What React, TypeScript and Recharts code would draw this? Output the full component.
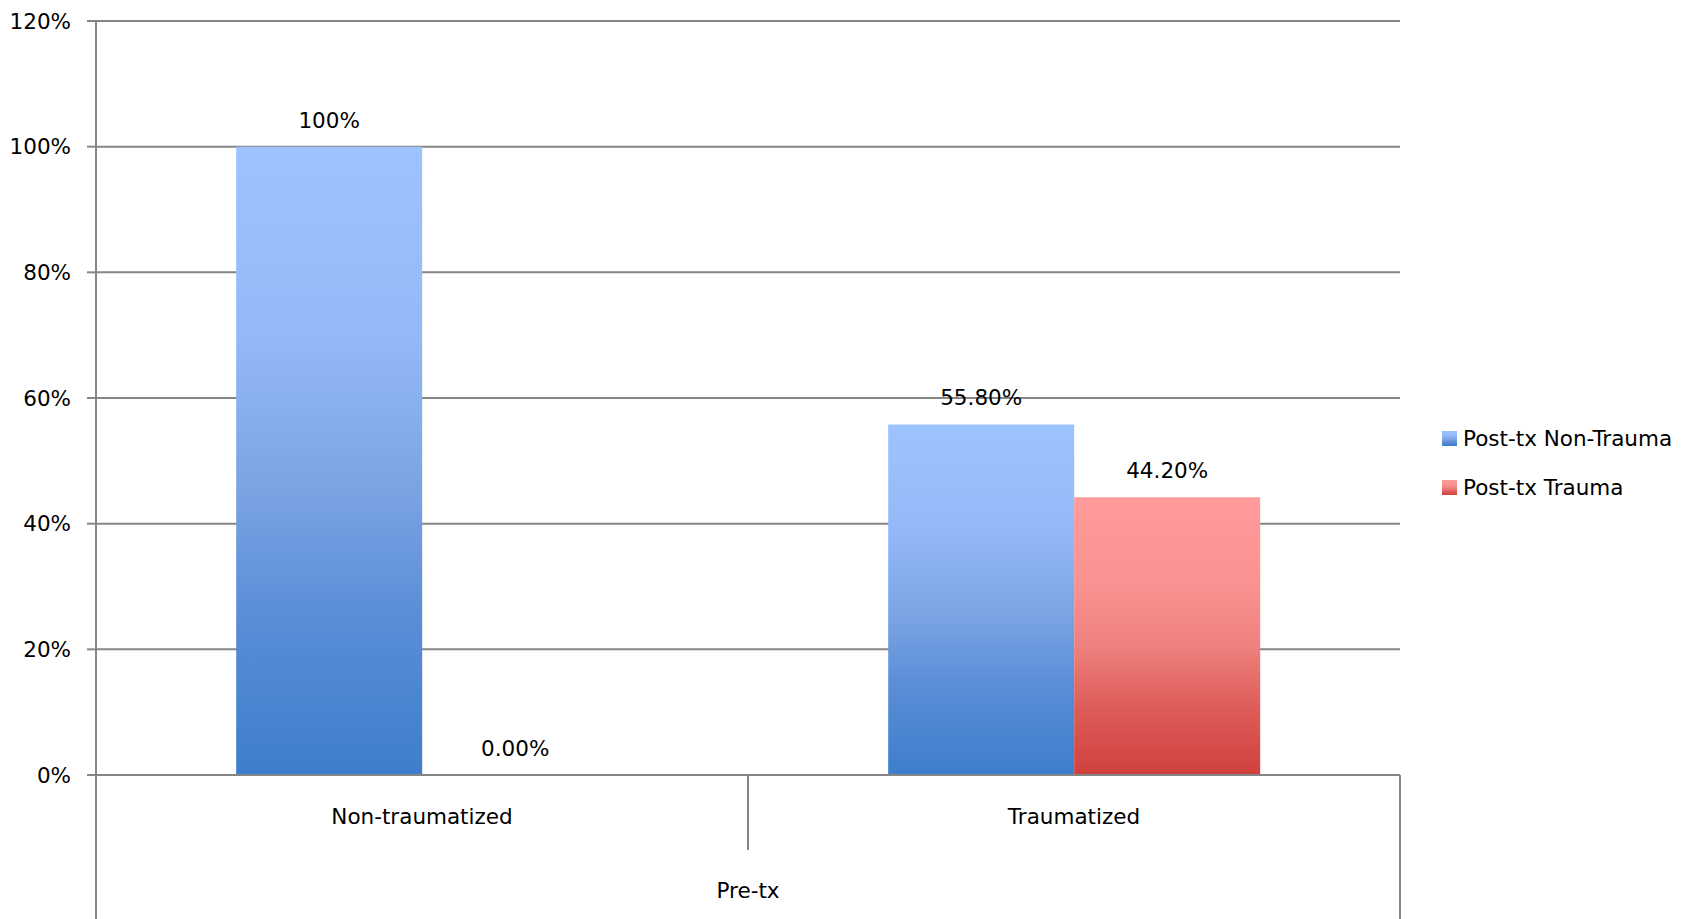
import React from 'react';
import { BarChart, Bar, XAxis, YAxis, CartesianGrid, Legend, LabelList } from 'recharts';

// Categories along the x axis, grouped under one pre-treatment heading
const categories = ['Non-traumatized', 'Traumatized'];
const groupHeading = 'Pre-tx';

// Post-treatment outcome shares (percent)
const seriesNames = ['Post-tx Non-Trauma', 'Post-tx Trauma'];
const postNonTrauma = [100, 55.8];
const postTrauma = [0, 44.2];

// Data labels as printed above each bar
const postNonTraumaLabels = ['100%', '55.80%'];
const postTraumaLabels = ['0.00%', '44.20%'];

// Value axis ticks
const yTicks = [0, 20, 40, 60, 80, 100, 120];

const data = categories.map((category, i) => ({
  category,
  nonTrauma: postNonTrauma[i],
  trauma: postTrauma[i],
  nonTraumaLabel: postNonTraumaLabels[i],
  traumaLabel: postTraumaLabels[i],
}));

const FONT = '"DejaVu Sans", sans-serif';
const FONT_SIZE = 21.5;
const LINE = '#868686';
const WIDTH = 1690;
const HEIGHT = 919;
const X_AXIS_HEIGHT = 144;
const DIVIDER_DROP = 75;

const blueStops = ['#9dc3ff', '#94b9f8', '#7aa3e4', '#5a8dd6', '#3d7ecc'];
const redStops = ['#ff9b9a', '#f99392', '#ee7f7c', '#de5e5b', '#d0403d'];
const stopOffsets = ['0%', '30%', '55%', '75%', '100%'];

const cssGradient = (stops: string[]) =>
  `linear-gradient(to bottom, ${stops.map((c, i) => `${c} ${stopOffsets[i]}`).join(', ')})`;

const CategoryTick = (props: any) => {
  const { x, y, payload, index, visibleTicksCount } = props;
  const half = payload && typeof payload.offset === 'number' ? payload.offset : 0;
  const isLast = index === visibleTicksCount - 1;
  return (
    <g>
      {index === 0 && (
        <line x1={x - half} x2={x - half} y1={y} y2={y + X_AXIS_HEIGHT} stroke={LINE} strokeWidth={2} />
      )}
      <line
        x1={x + half}
        x2={x + half}
        y1={y}
        y2={isLast ? y + X_AXIS_HEIGHT : y + DIVIDER_DROP}
        stroke={LINE}
        strokeWidth={2}
      />
      <text x={x} y={y + 49} textAnchor="middle" fill="#000" fontSize={FONT_SIZE} fontFamily={FONT}>
        {payload.value}
      </text>
    </g>
  );
};

const LegendContent = () => (
  <div style={{ fontFamily: FONT, fontSize: FONT_SIZE, color: '#000' }}>
    {seriesNames.map((name, i) => (
      <div
        key={name}
        style={{ display: 'flex', alignItems: 'center', height: 24, marginBottom: i === 0 ? 25 : 0 }}
      >
        <div
          style={{
            width: 15,
            height: 15,
            background: cssGradient(i === 0 ? blueStops : redStops),
          }}
        />
        <span style={{ marginLeft: 6, whiteSpace: 'nowrap' }}>{name}</span>
      </div>
    ))}
  </div>
);

export default function App() {
  return (
    <div style={{ position: 'absolute', left: 0, top: 0, background: '#fff' }}>
      <BarChart
        width={WIDTH}
        height={HEIGHT}
        data={data}
        margin={{ top: 21, right: 290, bottom: 0, left: 0 }}
        barCategoryGap="21.5%"
        barGap={0}
      >
        <defs>
          <linearGradient id="gradBlue" x1="0" y1="0" x2="0" y2="1">
            {blueStops.map((c, i) => (
              <stop key={i} offset={stopOffsets[i]} stopColor={c} />
            ))}
          </linearGradient>
          <linearGradient id="gradRed" x1="0" y1="0" x2="0" y2="1">
            {redStops.map((c, i) => (
              <stop key={i} offset={stopOffsets[i]} stopColor={c} />
            ))}
          </linearGradient>
        </defs>
        <CartesianGrid vertical={false} stroke={LINE} strokeWidth={2} />
        <XAxis
          dataKey="category"
          height={X_AXIS_HEIGHT}
          tickLine={false}
          tickSize={0}
          tickMargin={0}
          axisLine={{ stroke: LINE, strokeWidth: 2 }}
          tick={<CategoryTick />}
          interval={0}
          label={{
            value: groupHeading,
            position: 'insideBottom',
            offset: 21,
            fill: '#000',
            fontSize: FONT_SIZE,
            fontFamily: FONT,
          }}
        />
        <YAxis
          width={96}
          domain={[0, 120]}
          ticks={yTicks}
          interval={0}
          tickFormatter={(v: number) => `${v}%`}
          tickSize={9}
          tickMargin={16}
          axisLine={{ stroke: LINE, strokeWidth: 2 }}
          tickLine={{ stroke: LINE, strokeWidth: 2 }}
          tick={{ fill: '#000', fontSize: FONT_SIZE, fontFamily: FONT }}
        />
        <Legend
          layout="vertical"
          align="center"
          verticalAlign="middle"
          wrapperStyle={{ left: 1442, top: 426 }}
          content={<LegendContent />}
        />
        <Bar dataKey="nonTrauma" name={seriesNames[0]} fill="url(#gradBlue)" isAnimationActive={false}>
          <LabelList
            dataKey="nonTraumaLabel"
            position="top"
            offset={19}
            fill="#000"
            fontSize={FONT_SIZE}
            fontFamily={FONT}
          />
        </Bar>
        {/* a hairline minimum keeps the zero-value bar (and its label) in place under the axis */}
        <Bar
          dataKey="trauma"
          name={seriesNames[1]}
          fill="url(#gradRed)"
          minPointSize={0.5}
          isAnimationActive={false}
        >
          <LabelList
            dataKey="traumaLabel"
            position="top"
            offset={19}
            fill="#000"
            fontSize={FONT_SIZE}
            fontFamily={FONT}
          />
        </Bar>
      </BarChart>
    </div>
  );
}
